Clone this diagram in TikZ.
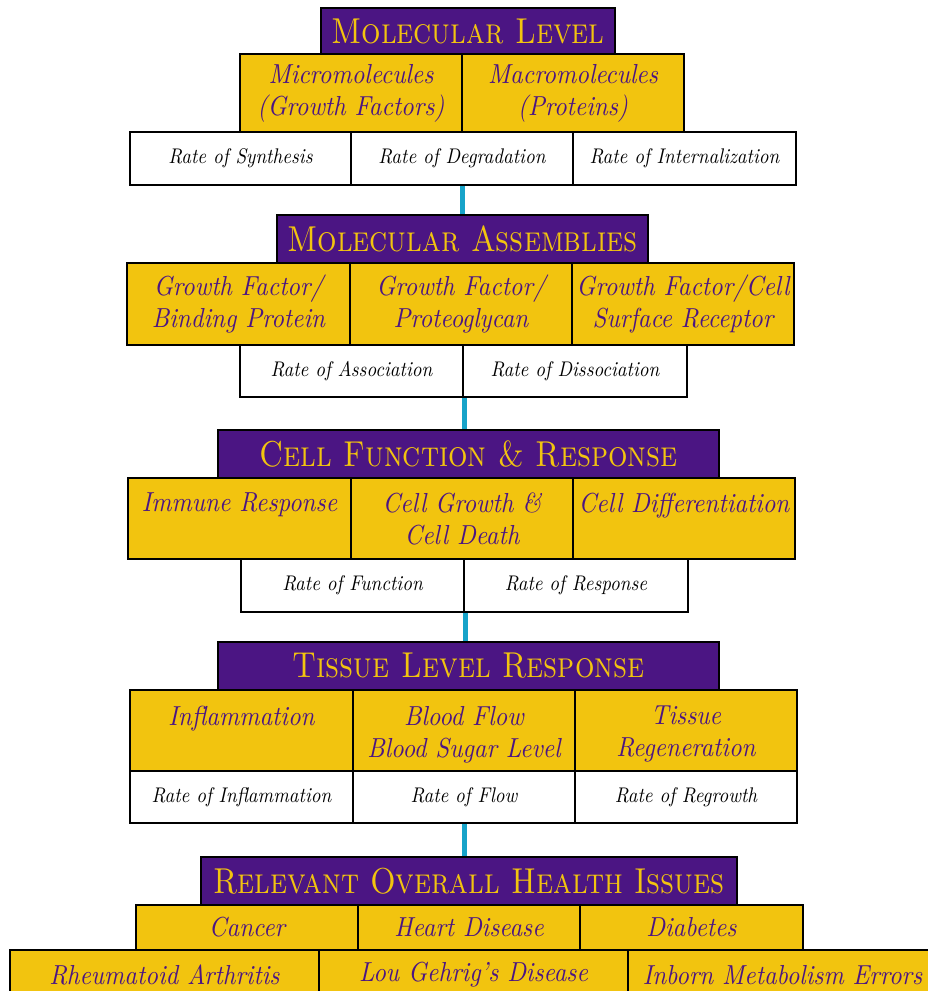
\documentclass[tikz,border=0pt]{standalone}
\usepackage{fontspec}
\usepackage{graphicx}
\newfontfamily\itten{lmroman10-italic.otf}[FakeStretch=0.9]
\definecolor{purp}{HTML}{4B1583}
\definecolor{gold}{HTML}{F2C40F}
\definecolor{cyanline}{HTML}{17A3C9}
\newcommand{\ttltext}[1]{\scalebox{0.85}[1]{\fontsize{36}{40}\selectfont\scshape #1}}
\begin{document}
\begin{tikzpicture}[x=1pt,y=-1pt,
  ttlbox/.style={draw=black, line width=2.4pt, fill=purp, text=gold, inner sep=0pt},
  ybox/.style={draw=black, line width=2.4pt, fill=gold, text=purp, inner sep=0pt, align=center, font=\itten\fontsize{27.5}{32}\selectfont},
  wbox/.style={draw=black, line width=2.4pt, fill=white, text=black, inner sep=0pt, font=\itten\fontsize{21.2}{24}\selectfont},
  ytext/.style={text=purp, inner sep=0pt, align=center, anchor=north, font=\itten\fontsize{27.5}{32}\selectfont},
  link/.style={draw=cyanline, line width=5pt}]
\useasboundingbox (0,0) rectangle (928,991);
\clip (0,0) rectangle (928,991);
% ---------- Section 1
\node[ybox, minimum width=222, minimum height=78] (y1a) at (351,93) {Micromolecules\\(Growth Factors)};
\node[ybox, minimum width=222, minimum height=78] (y1b) at (573,93) {Macromolecules\\(Proteins)};
\node[ttlbox, minimum width=294, minimum height=46] (t1) at (468,31) {\ttltext{Molecular Level}};
\node[wbox, minimum width=221, minimum height=53] (w1a) at (240.5,158.5) {Rate of Synthesis};
\node[wbox, minimum width=222, minimum height=53] (w1b) at (462,158.5) {Rate of Degradation};
\node[wbox, minimum width=223, minimum height=53] (w1c) at (684.5,158.5) {Rate of Internalization};
% ---------- Section 2
\node[ybox, minimum width=223, minimum height=82] (y2a) at (238.5,304) {Growth Factor/\\Binding Protein};
\node[ybox, minimum width=222, minimum height=82] (y2b) at (461,304) {Growth Factor/\\Proteoglycan};
\node[ybox, minimum width=222, minimum height=82] (y2c) at (683,304) {Growth Factor/Cell\\Surface Receptor};
\node[ttlbox, minimum width=371, minimum height=48] (t2) at (462.5,239) {\ttltext{Molecular Assemblies}};
\node[wbox, minimum width=223, minimum height=52] (w2a) at (351.5,371) {Rate of Association};
\node[wbox, minimum width=224, minimum height=52] (w2b) at (575,371) {Rate of Dissociation};
% ---------- Section 3
\node[ybox, minimum width=223, minimum height=81] (y3a) at (239.5,518.5) {};
\node[ybox, minimum width=222, minimum height=81] (y3b) at (462,518.5) {};
\node[ybox, minimum width=222, minimum height=81] (y3c) at (684,518.5) {};
\node[ytext] (y3at) at (239.5,493) {Immune Response};
\node[ytext] (y3bt) at (462,493) {Cell Growth \&\\Cell Death};
\node[ytext] (y3ct) at (684,493) {Cell Differentiation};
\node[ttlbox, minimum width=501, minimum height=48] (t3) at (468.5,454) {\ttltext{Cell Function \& Response}};
\node[wbox, minimum width=223, minimum height=53] (w3a) at (352.5,585.5) {Rate of Function};
\node[wbox, minimum width=224, minimum height=53] (w3b) at (576,585.5) {Rate of Response};
% ---------- Section 4
\node[ybox, minimum width=223, minimum height=81] (y4a) at (241.5,730.5) {};
\node[ybox, minimum width=222, minimum height=81] (y4b) at (464,730.5) {};
\node[ybox, minimum width=222, minimum height=81] (y4c) at (686,730.5) {};
\node[ytext] (y4at) at (241.5,706) {Inflammation};
\node[ytext] (y4bt) at (464,706) {Blood Flow\\Blood Sugar Level};
\node[ytext] (y4ct) at (686,706) {Tissue\\Regeneration};
\node[ttlbox, minimum width=501, minimum height=48] (t4) at (468.5,666) {\ttltext{Tissue Level Response}};
\node[wbox, minimum width=223, minimum height=52] (w4a) at (241.5,797) {Rate of Inflammation};
\node[wbox, minimum width=222, minimum height=52] (w4b) at (464,797) {Rate of Flow};
\node[wbox, minimum width=222, minimum height=52] (w4c) at (686,797) {Rate of Regrowth};
% ---------- Section 5
\node[ybox, minimum width=222, minimum height=45] (y5a) at (247,927.5) {Cancer};
\node[ybox, minimum width=222, minimum height=45] (y5b) at (469,927.5) {Heart Disease};
\node[ybox, minimum width=223, minimum height=45] (y5c) at (691.5,927.5) {Diabetes};
\node[ttlbox, minimum width=536, minimum height=48] (t5) at (469,881) {\ttltext{Relevant Overall Health Issues}};
\node[ybox, minimum width=309, minimum height=50] (y6a) at (164.5,975) {Rheumatoid Arthritis};
\node[ybox, minimum width=309, minimum height=50] (y6b) at (473.5,975) {Lou Gehrig’s Disease};
\node[ybox, minimum width=309, minimum height=50] (y6c) at (782.5,975) {Inborn Metabolism Errors};
% ---------- connectors
\draw[link] (w1b.south) -- (w1b.south |- t2.north);
\draw[link] (w2a.south east) -- (w2a.south east |- t3.north);
\draw[link] (w3a.south east) -- (w3a.south east |- t4.north);
\draw[link] (w4b.south) -- (w4b.south |- t5.north);
\end{tikzpicture}
\end{document}
